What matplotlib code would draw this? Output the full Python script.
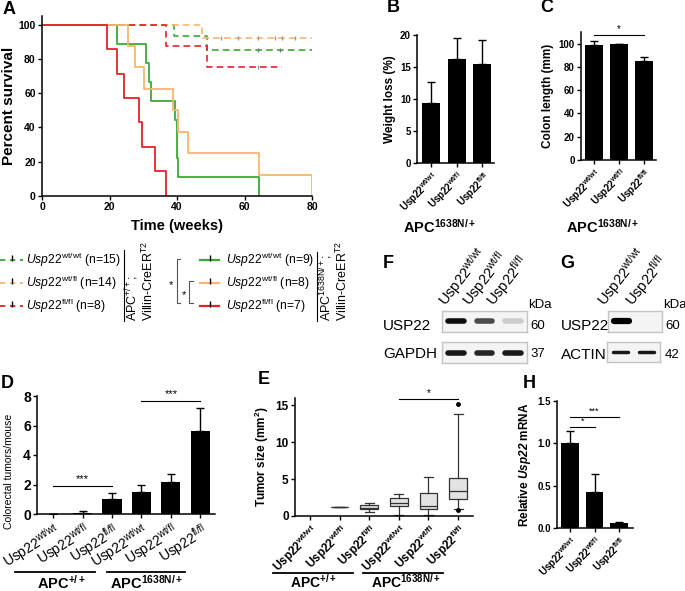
import matplotlib
matplotlib.use("Agg")
import matplotlib.pyplot as plt

plt.rcParams['font.family'] = ['Liberation Sans', 'DejaVu Sans']
plt.rcParams['mathtext.fontset'] = 'custom'
plt.rcParams['mathtext.rm'] = 'Liberation Sans'
plt.rcParams['mathtext.it'] = 'Liberation Sans:italic'
plt.rcParams['mathtext.bf'] = 'Liberation Sans:bold'
plt.rcParams['mathtext.bfit'] = 'Liberation Sans:italic:bold'
plt.rcParams['mathtext.default'] = 'regular'

GREEN = '#3aaa35'
ORANGE = '#fbb46e'
RED = '#e0242a'

# --- A: survival (weeks, percent) ---
apc_wt_green_t = [0, 39.1, 48.8, 80]
apc_wt_green_s = [100, 93.3, 85.2, 85.2]
apc_wt_orange_t = [0, 47.5, 80]
apc_wt_orange_s = [100, 92.3, 92.3]
apc_wt_red_t = [0, 36.6, 49.0, 71.1]
apc_wt_red_s = [100, 87.5, 75.0, 75.0]
cens_orange = [53, 58, 64, 69, 71, 75]
cens_green = [64, 70.5]
cens_red = [64]

apc_mut_green_t = [0, 22.1, 30.7, 31.6, 32.3, 39.4, 39.9, 40.1, 40.4, 64.2]
apc_mut_green_s = [100, 88.9, 77.8, 66.7, 55.6, 44.4, 33.3, 22.2, 11.1, 0]
apc_mut_orange_t = [0, 25.5, 27.7, 30.2, 38.7, 40.2, 43.2, 64.2, 80]
apc_mut_orange_s = [100, 87.5, 75, 62.5, 50, 37.5, 25, 12.5, 0]
apc_mut_red_t = [0, 19.3, 22.3, 24.3, 28.8, 29.5, 33.5, 36.6]
apc_mut_red_s = [100, 85.7, 71.4, 57.1, 42.9, 28.6, 14.3, 0]

legend_left = ['wt/wt', 'wt/fl', 'fl/fl']
legend_left_n = [15, 14, 8]
legend_right_n = [9, 8, 7]

# --- B, C, H ---
geno3 = ['wt/wt', 'wt/fl', 'fl/fl']
weight_loss = [9.4, 16.2, 15.5]
weight_err = [3.2, 3.4, 3.7]
colon_len = [99, 100, 85]
colon_err = [3, 0, 3.5]
mrna = [1.0, 0.42, 0.06]
mrna_err = [0.15, 0.22, 0.01]
geno2 = ['wt/wt', 'fl/fl']

# --- D ---
tum_geno = ['wt/wt', 'wt/fl', 'fl/fl', 'wt/wt', 'wt/fl', 'fl/fl']
tumors = [0, 0.1, 1.0, 1.5, 2.2, 5.6]
tumors_err = [0, 0.1, 0.45, 0.45, 0.5, 1.6]

# --- E: box stats (whislo, q1, med, q3, whishi, fliers) ---
box_lo = [None, 1.2, 0.6, 0.2, 0.2, 0.9]
box_q1 = [None, 1.2, 0.9, 1.3, 0.9, 2.3]
box_med = [None, 1.2, 1.1, 1.7, 1.4, 3.4]
box_q3 = [None, 1.2, 1.5, 2.4, 3.1, 5.2]
box_hi = [None, 1.2, 1.7, 3.0, 5.3, 13.8]
box_fl = [[], [], [], [], [], [15.2, 0.8]]

# --- F, G blots (band intensity 0..1) ---
usp22_F = [0.95, 0.7, 0.2]
gapdh_F = [0.9, 0.85, 0.9]
usp22_G = [1.0, 0.0]
actin_G = [0.9, 0.9]

W, H = 685, 591
fig = plt.figure(figsize=(6.85, 5.91), dpi=100)


def px_axes(l, t, r, b):
    return fig.add_axes([l / W, 1 - b / H, (r - l) / W, (b - t) / H])


def ftext(x, y, s, **kw):
    fig.text(x / W, 1 - y / H, s, **kw)


def style(ax, fs=7):
    for sp in ['top', 'right']:
        ax.spines[sp].set_visible(False)
    for sp in ['left', 'bottom']:
        ax.spines[sp].set_linewidth(1.1)
    ax.tick_params(direction='out', length=3, width=1, labelsize=fs, pad=1.5)
    for lab in ax.get_yticklabels():
        lab.set_fontweight('bold')


def sig(ax, x0, x1, y, s, dy, fs=7):
    ax.plot([x0, x1], [y, y], color='k', lw=0.8, clip_on=False)
    ax.text((x0 + x1) / 2, y + dy, s, ha='center', va='center', fontsize=fs, clip_on=False)


# overlay axes in pixel units
ov = fig.add_axes([0, 0, 1, 1])
ov.set_xlim(0, W)
ov.set_ylim(H, 0)
ov.axis('off')

# ---------------- A ----------------
axA = px_axes(42, 16, 312, 196)
axA.step(apc_wt_green_t, apc_wt_green_s, where='post', color=GREEN, ls=(0, (4, 2.5)), lw=1.2)
axA.step(apc_wt_orange_t, apc_wt_orange_s, where='post', color=ORANGE, ls=(0, (4, 2.5)), lw=1.2)
axA.step(apc_wt_red_t, apc_wt_red_s, where='post', color=RED, ls=(0, (4, 2.5)), lw=1.2)
axA.plot(cens_orange, [apc_wt_orange_s[-1]] * len(cens_orange), '|', color='#999999', ms=3)
axA.plot(cens_green, [apc_wt_green_s[-1]] * len(cens_green), '|', color='#777777', ms=3)
axA.plot(cens_red, [apc_wt_red_s[-1]] * len(cens_red), '|', color='#999999', ms=3)
axA.step(apc_mut_green_t, apc_mut_green_s, where='post', color=GREEN, lw=1.3)
axA.step(apc_mut_orange_t, apc_mut_orange_s, where='post', color=ORANGE, lw=1.3)
axA.step(apc_mut_red_t, apc_mut_red_s, where='post', color=RED, lw=1.3)
axA.set_xlim(0, 80)
axA.set_ylim(0, 105)
axA.set_xticks([0, 20, 40, 60, 80])
axA.set_yticks([0, 20, 40, 60, 80, 100])
axA.margins(0)
style(axA, 7.5)
for lab in axA.get_xticklabels():
    lab.set_fontweight('bold')
axA.set_ylabel('Percent survival', fontsize=11, fontweight='bold', labelpad=2)
ftext(177, 226, 'Time (weeks)', fontsize=10.5, fontweight='bold', ha='center', va='center')

# legend of A
rows_y = [260, 283, 306]
cols = [GREEN, ORANGE, RED]
for i in range(3):
    y = rows_y[i]
    ov.plot([0, 23], [y, y], color=cols[i], lw=1.3, ls=(0, (3, 2.5)))
    ov.plot([12], [y - 2], '|', color='k', ms=4, mew=1)
    ftext(26, y, r'$\mathit{Usp22}^{%s}$ (n=%d)' % (legend_left[i], legend_left_n[i]),
          fontsize=8.7, va='center', ha='left')
    ov.plot([200, 219], [y, y], color=cols[i], lw=1.6)
    ov.plot([210], [y - 2], '|', color='k', ms=4, mew=1)
    ftext(226, y, r'$\mathit{Usp22}^{%s}$ (n=%d)' % (legend_left[i], legend_right_n[i]),
          fontsize=8.7, va='center', ha='left')
ov.plot([124, 124], [250, 321], color='k', lw=0.8)
ov.plot([317, 317], [252, 321], color='k', lw=0.8)
ftext(132, 321, r'APC$^{+/+}$;', rotation=90, fontsize=9, ha='center', va='bottom')
ftext(148, 321, r'Villin-CreER$^{T2}$', rotation=90, fontsize=9, ha='center', va='bottom')
ftext(326, 321, r'APC$^{1638N/+}$;', rotation=90, fontsize=9, ha='center', va='bottom')
ftext(342, 321, r'Villin-CreER$^{T2}$', rotation=90, fontsize=9, ha='center', va='bottom')
ov.plot([180, 177, 177, 180], [259, 259, 303, 303], color='#555555', lw=0.8)
ov.plot([193, 189, 189, 193], [281, 281, 303, 303], color='#555555', lw=0.8)
ftext(171, 285, '*', fontsize=8, ha='center', va='center')
ftext(184, 295, '*', fontsize=8, ha='center', va='center')


def bar_panel(ax, vals, errs, labels, xlim, ylim, yticks, fs_x=6.5, fs_y=7, width=0.7):
    x = list(range(len(vals)))
    ax.bar(x, vals, width=width, color='k')
    ax.errorbar(x, vals, yerr=[[0] * len(vals), errs], fmt='none', ecolor='k',
                elinewidth=1, capsize=3, capthick=1)
    ax.set_xlim(*xlim)
    ax.set_ylim(*ylim)
    ax.set_yticks(yticks)
    ax.set_xticks(x)
    ax.set_xticklabels(['Usp22$^{%s}$' % g for g in labels], rotation=45, ha='right',
                       va='top', rotation_mode='anchor', fontsize=fs_x, fontweight='bold')
    style(ax, fs_y)


# ---------------- B ----------------
axB = px_axes(417, 35, 494, 163)
bar_panel(axB, weight_loss, weight_err, geno3, (-0.55, 2.45), (0, 20), [0, 5, 10, 15, 20])
axB.set_ylabel('Weight loss (%)', fontsize=8.5, fontweight='bold', labelpad=3)
ftext(440, 227, r'APC$^{1638N/+}$', fontsize=10.5, fontweight='bold', ha='center', va='center')

# ---------------- C ----------------
axC = px_axes(581, 32, 656, 160)
bar_panel(axC, colon_len, colon_err, geno3, (-0.52, 2.48), (0, 110), [0, 20, 40, 60, 80, 100],
          width=0.72)
axC.set_ylabel('Colon length (mm)', fontsize=8.5, fontweight='bold', labelpad=3)
sig(axC, 0, 2, 107.5, '*', 5, fs=7)
ftext(603, 227, r'APC$^{1638N/+}$', fontsize=10.5, fontweight='bold', ha='center', va='center')

# ---------------- D ----------------
axD = px_axes(37, 396, 215, 514)
x6 = list(range(6))
axD.bar(x6, tumors, width=0.65, color='k')
axD.errorbar(x6, tumors, yerr=[[0] * 6, tumors_err], fmt='none', ecolor='k', elinewidth=1,
             capsize=3, capthick=1)
axD.set_xlim(-0.55, 5.5)
axD.set_ylim(0, 8)
axD.set_yticks([0, 2, 4, 6, 8])
axD.set_xticks(x6)
axD.set_xticklabels(['Usp22$^{%s}$' % g for g in tum_geno], rotation=32, ha='right', va='top',
                    rotation_mode='anchor', fontsize=9)
style(axD, 10)
axD.set_ylabel('Colorectal tumors/mouse', fontsize=7.5)
axD.yaxis.set_label_coords(-0.13, 0.36)
sig(axD, 0, 2, 1.92, '***', 0.45, fs=8)
sig(axD, 3, 5, 7.68, '***', 0.45, fs=8)
ov.plot([15, 95], [572, 572], color='k', lw=1.3)
ov.plot([107, 185], [572, 572], color='k', lw=1.3)
ftext(62, 583, r'APC$^{+/+}$', fontsize=10.5, fontweight='bold', ha='center', va='center')
ftext(147, 583, r'APC$^{1638N/+}$', fontsize=10.5, fontweight='bold', ha='center', va='center')

# ---------------- E ----------------
axE = px_axes(295, 398, 473, 516)
stats = []
pos = []
for i in range(6):
    if box_med[i] is None:
        continue
    stats.append(dict(whislo=box_lo[i], q1=box_q1[i], med=box_med[i], q3=box_q3[i],
                      whishi=box_hi[i], fliers=box_fl[i]))
    pos.append(i)
axE.bxp(stats, positions=pos, widths=0.6, patch_artist=True, showfliers=True,
        boxprops=dict(facecolor='#e3e3e3', edgecolor='#333333', lw=0.9),
        medianprops=dict(color='#333333', lw=0.9),
        whiskerprops=dict(color='#333333', lw=0.9),
        capprops=dict(color='#333333', lw=0.9),
        flierprops=dict(marker='o', markerfacecolor='k', markeredgecolor='k', markersize=2.5))
axE.set_xlim(-0.5, 5.5)
axE.set_ylim(0, 16)
axE.set_yticks([0, 5, 10, 15])
axE.set_xticks(x6)
axE.set_xticklabels(['Usp22$^{%s}$' % g for g in tum_geno], rotation=45, ha='right', va='top',
                    rotation_mode='anchor', fontsize=7.5, fontweight='bold')
style(axE, 8.5)
axE.set_ylabel('Tumor size (mm$^2$)', fontsize=8.5, fontweight='bold', labelpad=3)
sig(axE, 3, 5, 15.9, '*', 0.8, fs=7)
ov.plot([273, 353], [573, 573], color='k', lw=1.3)
ov.plot([363, 443], [573, 573], color='k', lw=1.3)
ftext(313, 582, r'APC$^{+/+}$', fontsize=10, fontweight='bold', ha='center', va='center')
ftext(406, 582, r'APC$^{1638N/+}$', fontsize=10, fontweight='bold', ha='center', va='center')

# ---------------- H ----------------
axH = px_axes(557, 401, 633, 528)
bar_panel(axH, mrna, mrna_err, geno3, (-0.53, 2.57), (0, 1.5), [0.0, 0.5, 1.0, 1.5], width=0.72)
axH.set_yticklabels(['0.0', '0.5', '1.0', '1.5'], fontweight='bold')
axH.set_ylabel(r'Relative $\mathbfit{Usp22}$ mRNA', fontsize=8.5, fontweight='bold', labelpad=3)
sig(axH, 0, 1, 1.19, '*', 0.07, fs=6.5)
sig(axH, 0, 2, 1.31, '***', 0.07, fs=6.5)


# ---------------- F, G blots ----------------
def blot(l, t, r, b, vals, lw):
    ax = px_axes(l, t, r, b)
    ax.set_facecolor('#f4f4f4')
    for i, v in enumerate(vals):
        if v > 0:
            ax.plot([i - 0.28, i + 0.28], [0, 0], color=plt.cm.gray_r(v), lw=lw,
                    solid_capstyle='round')
    ax.set_xlim(-0.5, len(vals) - 0.5)
    ax.set_ylim(-1, 1)
    ax.set_xticks([])
    ax.set_yticks([])
    for sp in ax.spines.values():
        sp.set_color('#c4c4c4')
        sp.set_linewidth(1)
    return ax


blot(442, 311, 527, 332, usp22_F, 4)
blot(442, 342, 527, 363, gapdh_F, 4)
blot(608, 311, 662, 332, usp22_G, 4.5)
blot(607, 342, 660, 362, actin_G, 2.5)

ftext(383, 326, 'USP22', fontsize=11, va='center')
ftext(383, 354, 'GAPDH', fontsize=11, va='center')
ftext(528, 305, 'kDa', fontsize=9.5, va='center')
ftext(530, 326, '60', fontsize=9.5, va='center')
ftext(530, 354, '37', fontsize=9.5, va='center')
ftext(561, 326, 'USP22', fontsize=11, va='center')
ftext(561, 355, 'ACTIN', fontsize=11, va='center')
ftext(663, 305, 'kDa', fontsize=9.5, va='center')
ftext(665, 326, '60', fontsize=9.5, va='center')
ftext(665, 355, '42', fontsize=9.5, va='center')
for i, g in enumerate(geno3):
    ftext(450 + 24 * i, 310, 'Usp22$^{%s}$' % g, fontsize=10.5, rotation=52, ha='left',
          va='bottom', rotation_mode='anchor')
for i, g in enumerate(geno2):
    ftext(609 + 28 * i, 310, 'Usp22$^{%s}$' % g, fontsize=10.5, rotation=52, ha='left',
          va='bottom', rotation_mode='anchor')

# panel letters
for s, x, y in [('A', 3, 10), ('B', 387, 8), ('C', 540, 8), ('D', 1, 383), ('E', 258, 379),
                ('F', 383, 264), ('G', 560, 264), ('H', 523, 383)]:
    ftext(x, y, s, fontsize=13, fontweight='bold', va='center', ha='left')

fig.savefig('out.png', dpi=100)
